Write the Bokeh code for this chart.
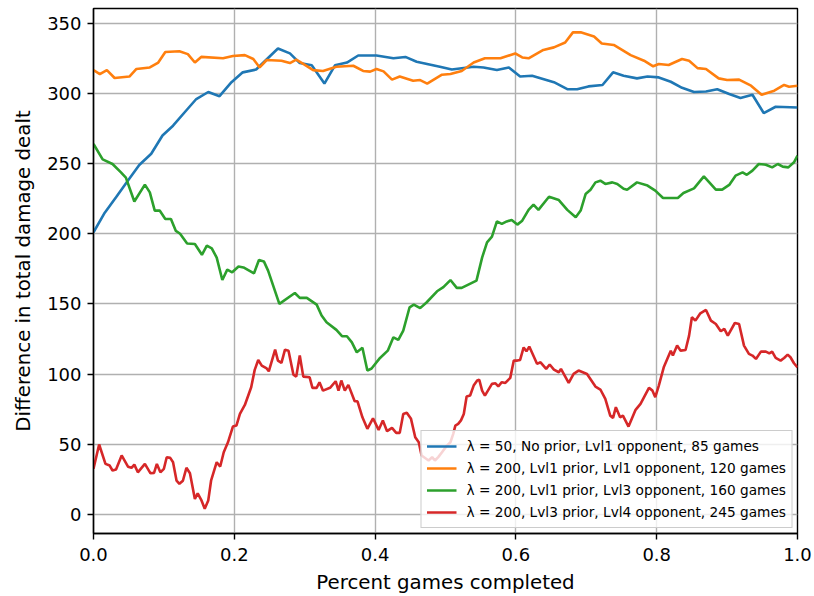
from bokeh.plotting import figure
from bokeh.models import Legend, LegendItem, FixedTicker, PrintfTickFormatter, Range1d
from bokeh.embed import file_html
from bokeh.resources import INLINE

# ---- data ----
labels = [
    "λ = 50, No prior, Lvl1 opponent, 85 games",
    "λ = 200, Lvl1 prior, Lvl1 opponent, 120 games",
    "λ = 200, Lvl1 prior, Lvl3 opponent, 160 games",
    "λ = 200, Lvl3 prior, Lvl4 opponent, 245 games",
]
colors = ["#1f77b4", "#ff7f0e", "#2ca02c", "#d62728"]

blue_x = [0.000, 0.016, 0.032, 0.049, 0.065, 0.082, 0.098, 0.113, 0.132, 0.146, 0.163, 0.179, 0.196, 0.212,
          0.231, 0.262, 0.279, 0.293, 0.310, 0.328, 0.343, 0.360, 0.376, 0.402, 0.426, 0.443, 0.459, 0.492,
          0.509, 0.540, 0.554, 0.573, 0.590, 0.606, 0.623, 0.654, 0.673, 0.687, 0.703, 0.723, 0.738, 0.753,
          0.772, 0.787, 0.803, 0.820, 0.836, 0.853, 0.870, 0.886, 0.903, 0.919, 0.936, 0.952, 0.969, 1.000]
blue_y = [201, 215, 226, 238, 249, 257, 270, 277, 288, 296, 301, 298, 308, 315,
          317, 332, 328.5, 321.6, 320, 307, 320, 322, 327, 327, 325, 326, 322.6, 319,
          317, 319, 318.5, 316.7, 318.5, 312, 312.6, 308, 303, 303, 305, 306, 315, 312.6,
          310.7, 312, 311.4, 308.3, 304, 301, 301.4, 303, 299.6, 296.7, 299, 286, 290.5, 290]

orange_x = [0.000, 0.009, 0.019, 0.030, 0.051, 0.061, 0.080, 0.092, 0.102, 0.122, 0.134, 0.144, 0.153, 0.184,
            0.198, 0.215, 0.227, 0.236, 0.246, 0.267, 0.279, 0.288, 0.298, 0.312, 0.326, 0.345, 0.369, 0.383,
            0.393, 0.402, 0.412, 0.424, 0.435, 0.454, 0.464, 0.474, 0.495, 0.507, 0.523, 0.540, 0.556, 0.578,
            0.599, 0.609, 0.618, 0.639, 0.654, 0.670, 0.681, 0.692, 0.711, 0.722, 0.739, 0.763, 0.782, 0.795,
            0.803, 0.817, 0.836, 0.846, 0.858, 0.870, 0.888, 0.900, 0.917, 0.934, 0.949, 0.967, 0.981, 0.988, 1.000]
orange_y = [316.6, 313.8, 316.6, 311, 312, 317.4, 318.5, 322, 329.5, 330, 328, 322, 326, 325,
            326.6, 327.3, 324.5, 318.5, 323.8, 323.3, 321.6, 324, 321, 316.6, 316, 319, 319.7, 316,
            315.5, 317.4, 315.7, 309.8, 312, 309, 309.5, 307, 313.3, 313.8, 316, 322, 325, 325,
            328.5, 325.6, 325, 331, 332.8, 336.3, 343.5, 343.5, 340.6, 335.6, 334.5, 327.3, 323.3, 319.3,
            321, 320.2, 324.5, 323.3, 318, 317.4, 310.7, 309.5, 309.8, 305.5, 299, 301.9, 306, 304.8, 305.5]

green_x = [0.000, 0.013, 0.027, 0.039, 0.046, 0.058, 0.073, 0.080, 0.087, 0.094, 0.102, 0.110, 0.117, 0.123,
           0.133, 0.144, 0.154, 0.161, 0.168, 0.175, 0.183, 0.190, 0.197, 0.206, 0.213, 0.228, 0.235, 0.242,
           0.248, 0.264, 0.286, 0.293, 0.303, 0.317, 0.324, 0.331, 0.345, 0.353, 0.360, 0.367, 0.374, 0.382,
           0.389, 0.395, 0.407, 0.418, 0.426, 0.433, 0.440, 0.449, 0.455, 0.464, 0.473, 0.488, 0.497, 0.507,
           0.516, 0.523, 0.544, 0.552, 0.559, 0.566, 0.573, 0.580, 0.587, 0.594, 0.602, 0.609, 0.618, 0.625,
           0.632, 0.647, 0.661, 0.673, 0.685, 0.692, 0.699, 0.706, 0.713, 0.720, 0.727, 0.737, 0.744, 0.753,
           0.758, 0.772, 0.787, 0.798, 0.809, 0.830, 0.838, 0.853, 0.867, 0.884, 0.893, 0.903, 0.912, 0.922,
           0.928, 0.936, 0.945, 0.955, 0.964, 0.972, 0.979, 0.987, 0.995, 1.000]
green_y = [264, 253, 249.7, 243.7, 240, 223, 235, 229.5, 216.5, 216.5, 210.5, 210.5, 202, 200,
           193, 192.7, 185, 191.5, 189.6, 183, 167, 174.4, 172.5, 176.6, 176, 171.8, 181.3, 180.3,
           173.7, 150, 157.8, 154.3, 154.3, 149.5, 141.7, 136.9, 131.5, 127, 127, 122.6, 115.5, 118.7,
           102.5, 104, 111.5, 116.7, 126.2, 124.4, 131, 147.6, 149.5, 147, 151, 159, 162, 167,
           161.4, 161.4, 166.6, 183, 193.9, 198, 208.8, 207, 208.8, 209.8, 206.5, 209.3, 217, 220.8,
           217, 226.4, 224, 217, 211.7, 216.5, 228.3, 231.4, 236.6, 237.8, 235.5, 236.6, 235.5, 232,
           231.4, 236.6, 234.3, 230.7, 225.5, 225.5, 229, 232.3, 240.9, 231.4, 231.4, 234.8, 241.4, 243.7,
           242, 245, 249.7, 249.2, 247.3, 249.7, 247.8, 247.3, 250.9, 255.6]

red_x = [0.000, 0.008, 0.017, 0.023, 0.027, 0.032, 0.040, 0.049, 0.054, 0.058, 0.063, 0.073, 0.081, 0.086,
         0.090, 0.095, 0.100, 0.104, 0.109, 0.113, 0.118, 0.122, 0.127, 0.132, 0.137, 0.144, 0.148, 0.153,
         0.158, 0.163, 0.167, 0.175, 0.180, 0.185, 0.191, 0.198, 0.203, 0.208, 0.215, 0.224, 0.229, 0.234,
         0.239, 0.246, 0.249, 0.258, 0.262, 0.267, 0.272, 0.277, 0.284, 0.288, 0.293, 0.298, 0.307, 0.311,
         0.317, 0.321, 0.326, 0.336, 0.344, 0.348, 0.352, 0.357, 0.362, 0.371, 0.375, 0.382, 0.389, 0.397,
         0.405, 0.411, 0.417, 0.424, 0.430, 0.435, 0.440, 0.445, 0.451, 0.457, 0.462, 0.466, 0.476, 0.481,
         0.485, 0.490, 0.495, 0.502, 0.507, 0.511, 0.514, 0.518, 0.522, 0.526, 0.530, 0.535, 0.540, 0.545,
         0.548, 0.552, 0.556, 0.566, 0.571, 0.575, 0.580, 0.585, 0.592, 0.597, 0.602, 0.606, 0.611, 0.615,
         0.619, 0.630, 0.635, 0.643, 0.648, 0.654, 0.661, 0.664, 0.675, 0.682, 0.689, 0.701, 0.713, 0.720,
         0.727, 0.734, 0.738, 0.742, 0.748, 0.752, 0.760, 0.770, 0.777, 0.789, 0.794, 0.798, 0.803, 0.810,
         0.820, 0.823, 0.829, 0.834, 0.841, 0.846, 0.850, 0.855, 0.862, 0.870, 0.877, 0.884, 0.891, 0.896,
         0.901, 0.911, 0.917, 0.924, 0.931, 0.936, 0.941, 0.948, 0.955, 0.960, 0.964, 0.969, 0.976, 0.981,
         0.986, 0.990, 0.995, 1.000]
red_y = [32.5, 49.8, 36, 34.8, 31.3, 32, 42, 34, 33.2, 35.5, 30, 36, 29.3, 29.6,
         36, 30, 32.5, 40.7, 40.3, 37.2, 24, 21.8, 24, 33.2, 29.3, 11, 15, 10.4,
         4, 9.9, 24, 37.2, 34.1, 44.3, 51.4, 62.6, 63.3, 71.6, 78, 90.6, 103, 110,
         106, 104, 102, 117.4, 109.6, 108, 117.4, 116.7, 99.6, 98.2, 113.2, 98.2, 97.7, 90.2,
         90.2, 94.2, 88.2, 90.2, 94.9, 88.2, 95.4, 88.2, 92.3, 80.6, 80.6, 69.2, 61, 68.5,
         60.2, 66.9, 59.3, 61.7, 58.1, 58.1, 71.6, 72.4, 68.1, 55, 51.4, 42, 38.4, 40.8,
         38.4, 41, 44.3, 49, 51.4, 57.4, 63.3, 64.5, 67, 71.6, 84, 84.7, 91.8, 95.4,
         95.9, 88.2, 84.7, 93, 93.4, 91.3, 94.2, 93.7, 97.3, 109.6, 109.6, 110.1, 119, 116.2,
         119.6, 107.3, 108.4, 103.7, 106.8, 103.2, 101.3, 103.7, 93.7, 100.1, 102.5, 100.1, 91.1, 89,
         82.3, 70.4, 68.8, 76.4, 69.2, 70.4, 62.6, 74.5, 78.8, 90.2, 88.2, 83.5, 91.8, 104.8,
         116.7, 113.2, 120.3, 116.7, 117.2, 127.4, 140.5, 138.1, 143.3, 145.7, 138.1, 135.7, 130.5, 132.2,
         127.4, 136.4, 135.7, 120.3, 114.4, 113.2, 110.8, 116, 116, 114.8, 116, 111.5, 109.6, 111.5,
         113.9, 112, 107.7, 104.8]

x_ticks = [0.0, 0.2, 0.4, 0.6, 0.8, 1.0]
y_ticks = [0, 50, 100, 150, 200, 250, 300, 350]
x_label = "Percent games completed"
y_label = "Difference in total damage dealt"

FONT = "DejaVu Sans"

p = figure(width=814, height=596, output_backend="svg", toolbar_location=None,
           x_range=Range1d(0, 1), y_range=Range1d(-13.6, 360.5),
           min_border_left=93, min_border_right=17, min_border_top=8, min_border_bottom=63)

p.outline_line_color = "black"
p.outline_line_width = 1.4
p.outline_line_alpha = 1.0
p.background_fill_color = "white"
p.border_fill_color = "white"

for ax in (p.xaxis[0], p.yaxis[0]):
    ax.axis_line_color = "black"
    ax.axis_line_width = 1.4
    ax.major_tick_line_color = "black"
    ax.major_tick_line_width = 1.4
    ax.major_tick_out = 6
    ax.major_tick_in = 0
    ax.minor_tick_line_color = None
    ax.major_label_text_font = FONT
    ax.major_label_text_font_size = "18px"
    ax.major_label_text_color = "black"
    ax.axis_label_text_font = FONT
    ax.axis_label_text_font_size = "19.8px"
    ax.axis_label_text_font_style = "normal"
    ax.axis_label_text_color = "black"

p.xaxis.ticker = FixedTicker(ticks=x_ticks)
p.yaxis.ticker = FixedTicker(ticks=y_ticks)
p.xaxis.formatter = PrintfTickFormatter(format="%.1f")
p.xaxis.axis_label = x_label
p.yaxis.axis_label = y_label
p.xaxis.major_label_standoff = 8
p.yaxis.major_label_standoff = 6
p.xaxis.axis_label_standoff = 7
p.yaxis.axis_label_standoff = 9

p.grid.grid_line_color = "#b0b0b0"
p.grid.grid_line_width = 1.4

series = [(blue_x, blue_y), (orange_x, orange_y), (green_x, green_y), (red_x, red_y)]
items = []
for (xs, ys), c, lab in zip(series, colors, labels):
    r = p.line(xs, ys, line_color=c, line_width=2.6)
    items.append(LegendItem(label=lab, renderers=[r]))

legend = Legend(items=items, location="bottom_right",
                label_text_font=FONT, label_text_font_size="13.7px", label_text_color="black",
                glyph_width=30, glyph_height=20, label_height=20, label_standoff=10,
                spacing=2, padding=5, margin=5,
                background_fill_color="white", background_fill_alpha=0.8,
                border_line_color="#cccccc", border_line_width=1.4, border_line_alpha=1.0)
p.add_layout(legend, "center")

open("out.html", "w").write(file_html(p, INLINE))
